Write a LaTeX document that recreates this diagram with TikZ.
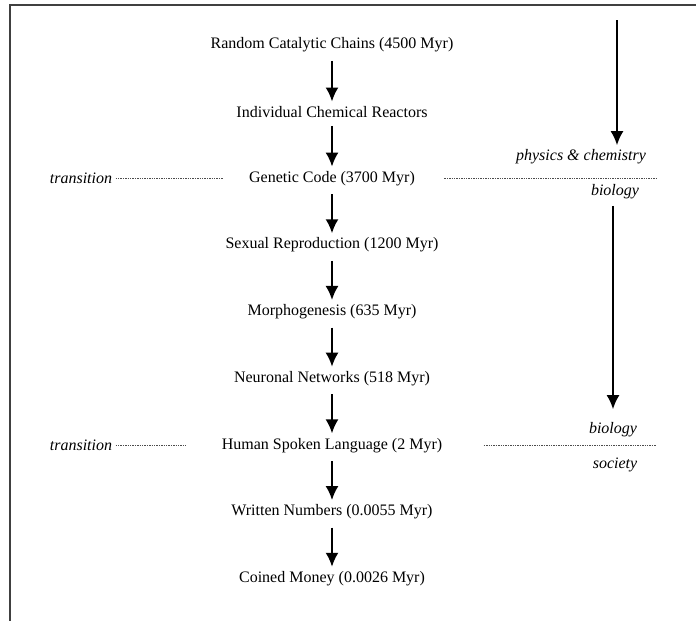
\documentclass[tikz,border=0pt]{standalone}
\usepackage{fontspec}
\setmainfont{Liberation Serif}
\usetikzlibrary{arrows.meta}
\tikzstyle{line} = [draw, line width=2pt, -{Latex[length=14pt,width=13pt]}, shorten <=5pt, shorten >=1pt]
\tikzstyle{sep} = [draw, black!70, line width=0.6pt, dash pattern=on 1.4pt off 1pt]

\begin{document}
\begin{tikzpicture}[x=1pt, y=-1pt, node distance=66.7pt, font=\fontsize{16}{19}\selectfont]
        \useasboundingbox (0,0) rectangle (696,621);
        \draw[line width=1.5pt, black!75] (10,621) -- (10,5) -- (696,5);

        \node (RCC) at (332,45) {Random Catalytic Chains (4500 Myr)};
        \node (ICR) [below of=RCC] {Individual Chemical Reactors};
        \node (GC) [below of=ICR] {Genetic Code (3700 Myr)};
        \node (SR) [below of=GC] {Sexual Reproduction (1200 Myr)};
        \node (MG) [below of=SR] {Morphogenesis (635 Myr)};
        \node (NN) [below of=MG] {Neuronal Networks (518 Myr)};
        \node (HSL) [below of=NN] {Human Spoken Language (2 Myr)};
        \node (WN) [below of=HSL] {Written Numbers (0.0055 Myr)};
        \node (CM) [below of=WN] {Coined Money (0.0026 Myr)};

        % transitions
        \node[font=\fontsize{16}{19}\itshape] (TR1) at (81,0 |- GC) {transition};
        \node[font=\fontsize{16}{19}\itshape] (TR2) at (81,0 |- HSL) {transition};
        \coordinate (E1) at (656,0 |- GC);
        \coordinate (E2) at (656,0 |- HSL);

        % domains
        \coordinate (top) at (617,20);
        \node[font=\fontsize{16}{19}\itshape] (PC) at (581,157) {physics \& chemistry};
        \node[font=\fontsize{16}{19}\itshape] (B1) at (615,192) {biology};
        \node[font=\fontsize{16}{19}\itshape] (B2) at (613,430) {biology};
        \node[font=\fontsize{16}{19}\itshape] (SO) at (615,465) {society};

        \path [line] (RCC) -- (ICR);
        \path [line] (ICR) -- (GC);
        \path [line] (GC) -- (SR);
        \path [line] (SR) -- (MG);
        \path [line] (MG) -- (NN);
        \path [line] (NN) -- (HSL);
        \path [line] (HSL) -- (WN);
        \path [line] (WN) -- (CM);

        \path [line, shorten <=0pt] (top) -- (top |- PC.north);
        \path [line, shorten >=10pt, shorten <=3pt] ([xshift=-2pt]B1.south) -- ([xshift=-2pt]B1.south |- B2.north);

        \path [sep, shorten >=22pt] (TR1) -- (GC);
        \path [sep, shorten <=26pt] (GC) -- (E1);
        \path [sep, shorten >=32pt] (TR2) -- (HSL);
        \path [sep, shorten <=38pt] (HSL) -- (E2);
\end{tikzpicture}
\end{document}
